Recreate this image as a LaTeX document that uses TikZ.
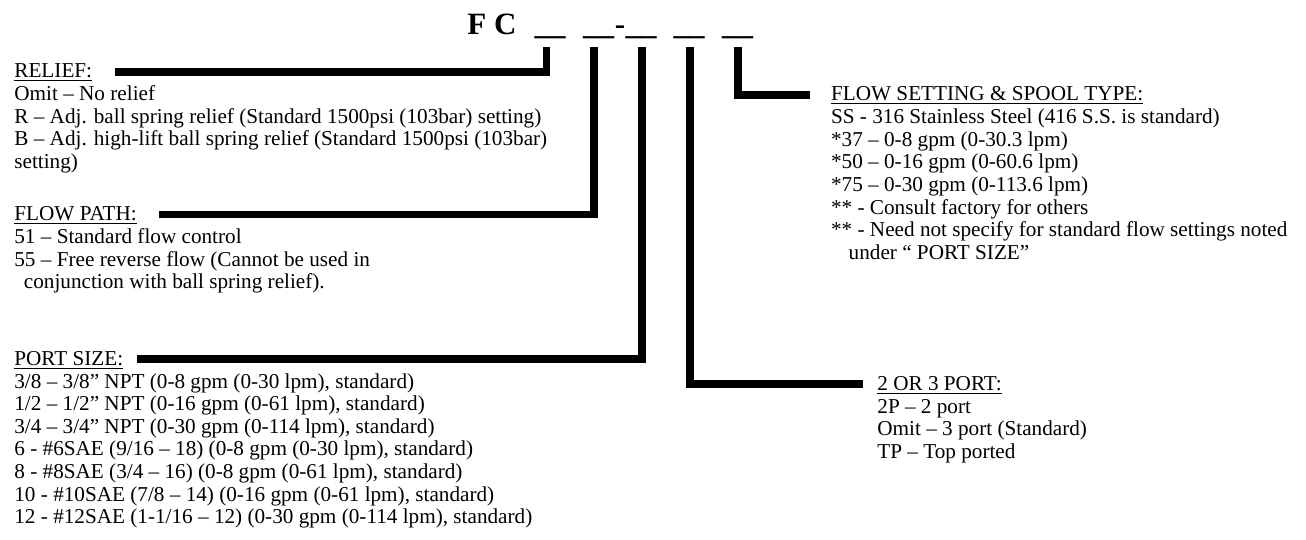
\documentclass[tikz,border=0pt]{standalone}
\usepackage{fontspec}
\setmainfont{Liberation Serif}
\usetikzlibrary{positioning}
\newcommand{\codefont}{\fontsize{15.5}{18}\bfseries\selectfont}
\tikzset{
  conn/.style={line width=3.75pt, line join=miter, line cap=butt},
  head/.style={anchor=base west, inner sep=0pt, text height=7.3pt, text depth=1.5pt},
  body/.style={inner sep=0pt, align=left},
  blank/.style={anchor=base, inner sep=0pt, font=\codefont}
}
\begin{document}
\begin{tikzpicture}[x=0.5pt, y=-0.5pt, font=\fontsize{10.6}{11.3}\selectfont]
  \useasboundingbox (0,0) rectangle (1306,540);
  % model code
  \node[blank, anchor=base west] (fc) at (467,35) {F C};
  \node[blank] (b1) at (550,35) {\_\_};
  \node[blank] (b2) at (598.5,35) {\_\_};
  \node[blank] (dash) at (620,35) {-};
  \node[blank] (b3) at (641,35) {\_\_};
  \node[blank] (b4) at (689,35) {\_\_};
  \node[blank] (b5) at (737.5,35) {\_\_};
  % left column
  \node[head] (relief) at (14,77.7) {\underline{RELIEF:}};
  \node[body, below right=3.4pt and 0pt of relief.base west] (reliefopt) {\strut Omit – No relief\\
    R – Adj. ball spring relief (Standard 1500psi (103bar) setting)\\
    B – Adj. high-lift ball spring relief (Standard 1500psi (103bar)\\
    setting)};
  \node[head] (flowpath) at (14,220.5) {\underline{FLOW PATH:}};
  \node[body, below right=3.4pt and 0pt of flowpath.base west] (flowpathopt) {\strut 51 – Standard flow control\\
    55 – Free reverse flow (Cannot be used in\\
    \hspace*{4.75pt}conjunction with ball spring relief).};
  \node[head] (portsize) at (14,365) {\underline{PORT SIZE:}};
  \node[body, below right=3.4pt and 0pt of portsize.base west] (portsizeopt) {\strut 3/8 – 3/8” NPT (0-8 gpm (0-30 lpm), standard)\\
    1/2 – 1/2” NPT (0-16 gpm (0-61 lpm), standard)\\
    3/4 – 3/4” NPT (0-30 gpm (0-114 lpm), standard)\\
    6 - \#6SAE (9/16 – 18) (0-8 gpm (0-30 lpm), standard)\\
    8 - \#8SAE (3/4 – 16) (0-8 gpm (0-61 lpm), standard)\\
    10 - \#10SAE (7/8 – 14) (0-16 gpm (0-61 lpm), standard)\\
    12 - \#12SAE (1-1/16 – 12) (0-30 gpm (0-114 lpm), standard)};
  % right column
  \node[head] (flowset) at (830.7,100.7) {\underline{FLOW SETTING \& SPOOL TYPE:}};
  \node[body, below right=3.4pt and 0pt of flowset.base west] (flowsetopt) {\strut SS - 316 Stainless Steel (416 S.S. is standard)\\
    *37 – 0-8 gpm (0-30.3 lpm)\\
    *50 – 0-16 gpm (0-60.6 lpm)\\
    *75 – 0-30 gpm (0-113.6 lpm)\\
    ** - Consult factory for others\\
    ** - Need not specify for standard flow settings noted\\
    \hspace*{8.8pt}under “ PORT SIZE”};
  \node[head] (ports) at (877,390) {\underline{2 OR 3 PORT:}};
  \node[body, below right=3.4pt and 0pt of ports.base west] (portsopt) {\strut 2P – 2 port\\
    Omit – 3 port (Standard)\\
    TP – Top ported};
  % leaders
  \draw[conn] ([xshift=-1.75pt,yshift=-5.85pt]b1.base) |- ([xshift=11pt]relief.east);
  \draw[conn] ([xshift=-2.25pt,yshift=-5.85pt]b2.base) |- ([xshift=10.7pt]flowpath.east);
  \draw[conn] ([xshift=0.5pt,yshift=-5.85pt]b3.base) |- ([xshift=6.5pt]portsize.east);
  \draw[conn] ([xshift=0.5pt,yshift=-5.85pt]b4.base) |- ([xshift=-7pt]ports.west);
  \draw[conn] ([xshift=0.25pt,yshift=-5.85pt]b5.base) |- ([xshift=-10.35pt]flowset.west);
\end{tikzpicture}
\end{document}
